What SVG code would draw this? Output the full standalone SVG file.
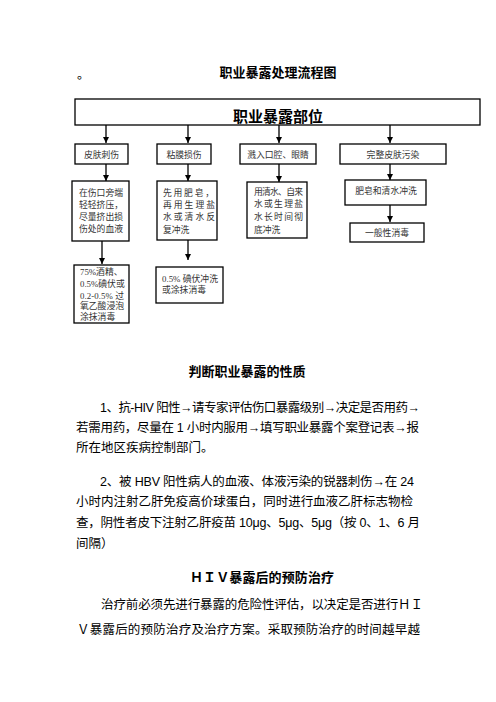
<svg xmlns="http://www.w3.org/2000/svg" width="496" height="702" viewBox="0 0 496 702">
<style>
.bx{fill:#fff;stroke:#000;stroke-width:1.3}
.bt{font-family:"Liberation Serif","Noto Sans CJK SC",serif;font-size:8.8px;fill:#333}
.c{text-anchor:middle}
.h{font-family:"Liberation Sans","Noto Sans CJK SC",sans-serif;font-weight:bold;fill:#000}
.p{font-family:"Liberation Sans","Noto Sans CJK SC",sans-serif;font-size:12.5px;fill:#000}
.ar{stroke:#000;stroke-width:1.3;fill:none;marker-end:url(#ah)}
</style>
<defs>
<marker id="ah" markerUnits="userSpaceOnUse" markerWidth="6" markerHeight="7" refX="6" refY="3" orient="auto">
<path d="M0,0 L6,3 L0,6 z" fill="#000"/>
</marker>
</defs>
<rect width="496" height="702" fill="#fff"/>
<text x="77" y="79" class="p" font-size="12">。</text>
<text x="278" y="77" class="h c" font-size="13">职业暴露处理流程图</text>

<g id="connectors">
<line class="ar" x1="106" y1="125" x2="106" y2="143"/>
<line class="ar" x1="188" y1="125" x2="188" y2="143"/>
<line class="ar" x1="279" y1="125" x2="279" y2="143"/>
<line class="ar" x1="390" y1="125" x2="390" y2="143"/>
<line class="ar" x1="106" y1="164" x2="106" y2="181"/>
<line class="ar" x1="188" y1="164" x2="188" y2="181"/>
<line class="ar" x1="279" y1="164" x2="279" y2="182"/>
<line class="ar" x1="390" y1="164" x2="390" y2="180"/>
<line class="ar" x1="390" y1="205" x2="390" y2="222"/>
<line class="ar" x1="102" y1="241" x2="102" y2="264"/>
<line class="ar" x1="188" y1="240" x2="188" y2="260"/>
</g>

<g id="main">
<rect class="bx" x="75" y="99" width="405" height="26"/>
<text x="278" y="122" class="h c" font-size="15">职业暴露部位</text>
</g>

<g id="skin-puncture">
<rect class="bx" x="75" y="144" width="53" height="20"/>
<text x="101.5" y="158" class="bt c">皮肤刺伤</text>
</g>
<g id="mucosa">
<rect class="bx" x="157" y="144" width="54" height="20"/>
<text x="184" y="158" class="bt c">粘膜损伤</text>
</g>
<g id="splash">
<rect class="bx" x="240" y="144" width="76" height="20"/>
<text x="278" y="158" class="bt c">溅入口腔、眼睛</text>
</g>
<g id="intact-skin">
<rect class="bx" x="340" y="144" width="106" height="20"/>
<text x="393" y="158" class="bt c">完整皮肤污染</text>
</g>

<g id="squeeze">
<rect class="bx" x="72" y="181" width="57" height="60"/>
<text x="79" y="196" class="bt">在伤口旁端</text>
<text x="79" y="208" class="bt">轻轻挤压，</text>
<text x="79" y="220" class="bt">尽量挤出损</text>
<text x="79" y="231.5" class="bt">伤处的血液</text>
</g>
<g id="soap-rinse">
<rect class="bx" x="157" y="181" width="60" height="59"/>
<text x="163" y="196" class="bt" textLength="51" lengthAdjust="spacing">先用肥皂，</text>
<text x="163" y="207.5" class="bt" textLength="52" lengthAdjust="spacing">再用生理盐</text>
<text x="163" y="220" class="bt" textLength="52" lengthAdjust="spacing">水或清水反</text>
<text x="163" y="233" class="bt">复冲洗</text>
</g>
<g id="water-rinse">
<rect class="bx" x="247" y="182" width="60" height="56"/>
<text x="254" y="195" class="bt" textLength="49" lengthAdjust="spacing">用清水、自来</text>
<text x="254" y="206.5" class="bt" textLength="49" lengthAdjust="spacing">水或生理盐</text>
<text x="254" y="220" class="bt" textLength="49" lengthAdjust="spacing">水长时间彻</text>
<text x="254" y="233" class="bt">底冲洗</text>
</g>
<g id="soap-water">
<rect class="bx" x="345" y="180" width="81" height="25"/>
<text x="386" y="194" class="bt c">肥皂和清水冲洗</text>
</g>
<g id="general-disinfect">
<rect class="bx" x="350" y="223" width="74" height="19"/>
<text x="387" y="236" class="bt c">一般性消毒</text>
</g>
<g id="alcohol">
<rect class="bx" x="74" y="265" width="55" height="58"/>
<text x="80" y="275" class="bt">75%酒精、</text>
<text x="80" y="287" class="bt">0.5%碘伏或</text>
<text x="80" y="298.5" class="bt" textLength="44" lengthAdjust="spacing">0.2-0.5% 过</text>
<text x="80" y="309" class="bt">氧乙酸浸泡</text>
<text x="80" y="319.5" class="bt">涂抹消毒</text>
</g>
<g id="iodophor">
<rect class="bx" x="156" y="267" width="67" height="36"/>
<text x="162" y="282" class="bt" textLength="56" lengthAdjust="spacing">0.5% 碘伏冲洗</text>
<text x="162" y="293" class="bt">或涂抹消毒</text>
</g>

<text x="247" y="376" class="h c" font-size="13">判断职业暴露的性质</text>
<text x="100" y="411.5" class="p" textLength="320" lengthAdjust="spacing">1、抗-HIV 阳性→请专家评估伤口暴露级别→决定是否用药→</text>
<text x="76" y="432" class="p" textLength="343" lengthAdjust="spacing">若需用药，尽量在 1 小时内服用→填写职业暴露个案登记表→报</text>
<text x="76" y="452" class="p">所在地区疾病控制部门。</text>
<text x="100" y="486" class="p" textLength="314" lengthAdjust="spacing">2、被 HBV 阳性病人的血液、体液污染的锐器刺伤→在 24</text>
<text x="76" y="506" class="p" textLength="337" lengthAdjust="spacing">小时内注射乙肝免疫高价球蛋白，同时进行血液乙肝标志物检</text>
<text x="76" y="527" class="p" textLength="344" lengthAdjust="spacing">查，阴性者皮下注射乙肝疫苗 10μg、5μg、5μg（按 0、1、6 月</text>
<text x="76" y="548" class="p">间隔）</text>
<text x="190" y="582" class="h" font-size="13" textLength="144" lengthAdjust="spacing">ＨＩＶ暴露后的预防治疗</text>
<text x="101" y="609" class="p" textLength="322" lengthAdjust="spacing">治疗前必须先进行暴露的危险性评估，以决定是否进行ＨＩ</text>
<text x="77" y="634" class="p" textLength="343" lengthAdjust="spacing">Ｖ暴露后的预防治疗及治疗方案。采取预防治疗的时间越早越</text>
</svg>
